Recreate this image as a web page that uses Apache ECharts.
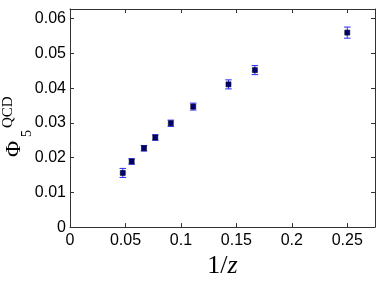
<!DOCTYPE html>
<html><head><meta charset="utf-8">
<script src="https://cdn.jsdelivr.net/npm/echarts@6/dist/echarts.min.js"></script>
<style>html,body{margin:0;padding:0;background:#fff}#c{width:378px;height:284px}</style>
</head><body><div id="c"></div>
<script>
var invZ = [0.0476, 0.0556, 0.0667, 0.0769, 0.0909, 0.1111, 0.1429, 0.1667, 0.25];
var phi5 = [0.0156, 0.0189, 0.0227, 0.0258, 0.0299, 0.0347, 0.0411, 0.0452, 0.0560];
var phiErr = [0.0013, 0.0008, 0.0008, 0.0008, 0.0009, 0.0010, 0.0013, 0.0013, 0.0016];

var pts = invZ.map(function(x,i){return [x, phi5[i]];});
var errData = invZ.map(function(x,i){return [x, phi5[i]-phiErr[i], phi5[i]+phiErr[i]];});

var axisCol = '#333';
var lab = {fontFamily:'Liberation Sans, Arial, sans-serif', fontSize:16, color:'#000'};
function fmt(v){ return v===0 ? '0' : String(+v.toFixed(3)); }

var chart = echarts.init(document.getElementById('c'), null, {renderer:'canvas'});
chart.setOption({
  animation:false,
  grid:{left:70, right:3, top:9, bottom:49},
  xAxis:[{
    type:'value', min:0, max:0.275, interval:0.05, position:'bottom',
    axisLine:{show:true, onZero:false, lineStyle:{color:axisCol, width:1}},
    axisTick:{show:true, inside:true, length:4, lineStyle:{color:axisCol}},
    splitLine:{show:false},
    axisLabel:Object.assign({margin:5, showMaxLabel:false, formatter:fmt}, lab),
    name:'{a|1/}{b|z}', nameLocation:'middle', nameGap:19,
    nameTextStyle:{rich:{
      a:{fontFamily:'Liberation Serif, serif', fontSize:26, color:'#000'},
      b:{fontFamily:'Liberation Serif, serif', fontStyle:'italic', fontSize:26, color:'#000'}
    }}
  },{
    type:'value', min:0, max:0.275, interval:0.05, position:'top',
    axisLine:{show:true, onZero:false, lineStyle:{color:axisCol, width:1}},
    axisTick:{show:true, inside:true, length:4, lineStyle:{color:axisCol}},
    axisLabel:{show:false}, splitLine:{show:false}
  }],
  yAxis:[{
    type:'value', min:0, max:0.0628, interval:0.01, position:'left',
    axisLine:{show:true, onZero:false, lineStyle:{color:axisCol, width:1}},
    axisTick:{show:true, inside:true, length:4, lineStyle:{color:axisCol}},
    splitLine:{show:false},
    axisLabel:Object.assign({margin:4, showMaxLabel:false, formatter:fmt}, lab)
  },{
    type:'value', min:0, max:0.0628, interval:0.01, position:'right',
    axisLine:{show:true, onZero:false, lineStyle:{color:axisCol, width:1}},
    axisTick:{show:true, inside:true, length:4, lineStyle:{color:axisCol}},
    axisLabel:{show:false}, splitLine:{show:false}
  }],
  graphic:[
    {type:'text', x:14, y:157, rotation:Math.PI/2,
     style:{text:'Φ', fontFamily:'Liberation Serif, serif', fontSize:22, fill:'#000', align:'left', verticalAlign:'middle'}},
    {type:'text', x:27.5, y:137, rotation:Math.PI/2,
     style:{text:'5', fontFamily:'Liberation Serif, serif', fontSize:14, fill:'#000', align:'left', verticalAlign:'middle'}},
    {type:'text', x:8.5, y:128, rotation:Math.PI/2,
     style:{text:'QCD', fontFamily:'Liberation Serif, serif', fontSize:15, fill:'#000', align:'left', verticalAlign:'middle'}}
  ],
  series:[{
    type:'custom',
    data:errData,
    encode:{x:0, y:[1,2]},
    renderItem:function(params, api){
      var x = api.value(0);
      var lo = api.coord([x, api.value(1)]);
      var hi = api.coord([x, api.value(2)]);
      var w = 3.3;
      var st = {stroke:'#2b2bff', lineWidth:1};
      return {type:'group', children:[
        {type:'line', shape:{x1:lo[0], y1:lo[1], x2:hi[0], y2:hi[1]}, style:st},
        {type:'line', shape:{x1:lo[0]-w, y1:lo[1], x2:lo[0]+w, y2:lo[1]}, style:st},
        {type:'line', shape:{x1:hi[0]-w, y1:hi[1], x2:hi[0]+w, y2:hi[1]}, style:st}
      ]};
    },
    z:2
  },{
    type:'scatter', data:pts, symbol:'rect', symbolSize:5,
    itemStyle:{color:'#00007a', borderColor:'#000', borderWidth:0.6, opacity:1},
    z:3
  }]
});
</script></body></html>
